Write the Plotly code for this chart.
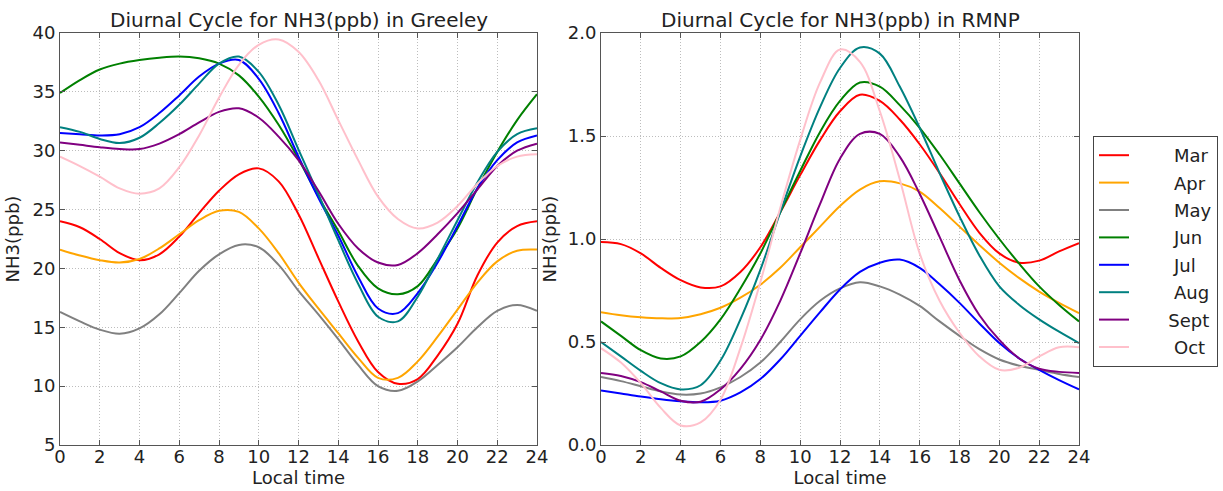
import plotly.graph_objects as go

hours = list(range(25))
months = ["Mar", "Apr", "May", "Jun", "Jul", "Aug", "Sept", "Oct"]
colors = ["#ff0000", "#ffa500", "#808080", "#008000", "#0000ff", "#008080", "#800080", "#ffc0cb"]

# Greeley NH3 (ppb) hourly values
greeley_mar = [24.0, 23.5, 22.5, 21.3, 20.7, 21.2, 22.7, 24.7, 26.6, 28.0, 28.5, 27.4, 24.6, 20.9, 17.2, 13.8, 11.2, 10.2, 10.6, 12.6, 15.3, 19.4, 22.2, 23.6, 24.0]
greeley_apr = [21.6, 21.1, 20.7, 20.5, 20.8, 21.7, 22.9, 24.1, 24.9, 24.8, 23.4, 21.3, 18.8, 16.6, 14.5, 12.4, 10.7, 10.7, 12.1, 14.2, 16.5, 18.8, 20.6, 21.5, 21.6]
greeley_may = [16.3, 15.5, 14.8, 14.45, 14.9, 16.1, 17.9, 19.8, 21.2, 22.0, 21.8, 20.3, 18.1, 16.1, 14.0, 11.8, 10.0, 9.6, 10.4, 11.8, 13.3, 15.0, 16.4, 16.9, 16.4]
greeley_jun = [34.9, 36.0, 36.9, 37.4, 37.7, 37.9, 38.0, 37.85, 37.4, 36.4, 34.6, 32.2, 29.3, 26.1, 23.2, 20.2, 18.3, 17.8, 18.5, 20.8, 23.4, 26.8, 29.9, 32.6, 34.8]
greeley_jul = [31.5, 31.4, 31.3, 31.4, 32.0, 33.2, 34.7, 36.3, 37.4, 37.7, 36.1, 33.2, 29.5, 26.0, 22.8, 19.3, 16.6, 16.2, 17.9, 20.5, 23.6, 26.8, 29.2, 30.7, 31.3]
greeley_aug = [32.0, 31.6, 31.0, 30.65, 31.1, 32.35, 33.9, 35.7, 37.4, 38.0, 36.7, 33.9, 30.1, 26.3, 22.4, 18.7, 15.9, 15.5, 17.6, 20.8, 24.1, 27.3, 29.9, 31.4, 31.9]
greeley_sept = [30.7, 30.5, 30.3, 30.15, 30.14, 30.6, 31.4, 32.4, 33.3, 33.6, 32.8, 31.2, 29.2, 26.6, 23.8, 21.7, 20.5, 20.3, 21.3, 22.9, 24.7, 26.7, 28.7, 30.0, 30.6]
greeley_oct = [29.5, 28.7, 27.8, 26.8, 26.35, 26.8, 28.6, 31.3, 34.5, 37.3, 39.0, 39.45, 38.4, 36.0, 32.6, 29.2, 26.1, 24.2, 23.4, 23.9, 25.3, 27.2, 28.7, 29.5, 29.7]

# RMNP NH3 (ppb) hourly values
rmnp_mar = [0.985, 0.975, 0.93, 0.86, 0.80, 0.765, 0.77, 0.84, 0.96, 1.13, 1.31, 1.48, 1.62, 1.70, 1.67, 1.58, 1.46, 1.32, 1.17, 1.03, 0.93, 0.885, 0.895, 0.94, 0.98]
rmnp_apr = [0.645, 0.63, 0.62, 0.615, 0.617, 0.635, 0.666, 0.715, 0.778, 0.86, 0.96, 1.06, 1.16, 1.24, 1.28, 1.27, 1.23, 1.15, 1.06, 0.97, 0.885, 0.81, 0.745, 0.69, 0.64]
rmnp_may = [0.33, 0.31, 0.285, 0.26, 0.245, 0.25, 0.28, 0.33, 0.40, 0.50, 0.61, 0.70, 0.76, 0.79, 0.77, 0.73, 0.675, 0.60, 0.53, 0.465, 0.415, 0.385, 0.365, 0.345, 0.33]
rmnp_jun = [0.60, 0.53, 0.46, 0.42, 0.43, 0.50, 0.61, 0.76, 0.93, 1.13, 1.33, 1.52, 1.67, 1.76, 1.74, 1.65, 1.54, 1.41, 1.27, 1.13, 1.00, 0.88, 0.77, 0.68, 0.60]
rmnp_jul = [0.265, 0.25, 0.235, 0.222, 0.212, 0.207, 0.215, 0.255, 0.32, 0.415, 0.53, 0.645, 0.755, 0.84, 0.885, 0.90, 0.86, 0.78, 0.69, 0.59, 0.495, 0.42, 0.365, 0.315, 0.27]
rmnp_aug = [0.50, 0.43, 0.36, 0.30, 0.27, 0.29, 0.41, 0.61, 0.85, 1.13, 1.40, 1.64, 1.83, 1.93, 1.90, 1.74, 1.54, 1.32, 1.11, 0.92, 0.77, 0.68, 0.61, 0.55, 0.495]
rmnp_sept = [0.35, 0.335, 0.305, 0.26, 0.215, 0.21, 0.27, 0.37, 0.51, 0.70, 0.93, 1.17, 1.39, 1.51, 1.51, 1.40, 1.22, 1.01, 0.80, 0.63, 0.51, 0.42, 0.37, 0.355, 0.35]
rmnp_oct = [0.47, 0.40, 0.30, 0.18, 0.095, 0.11, 0.22, 0.47, 0.79, 1.15, 1.48, 1.76, 1.92, 1.86, 1.62, 1.29, 0.93, 0.70, 0.545, 0.43, 0.365, 0.375, 0.43, 0.475, 0.475]

greeley = [greeley_mar, greeley_apr, greeley_may, greeley_jun, greeley_jul, greeley_aug, greeley_sept, greeley_oct]
rmnp = [rmnp_mar, rmnp_apr, rmnp_may, rmnp_jun, rmnp_jul, rmnp_aug, rmnp_sept, rmnp_oct]

x_ticks = list(range(0, 25, 2))
greeley_ticks = [5, 10, 15, 20, 25, 30, 35, 40]
rmnp_ticks = [0.0, 0.5, 1.0, 1.5, 2.0]

FONT = "DejaVu Sans"
W, H = 1223, 491

fig = go.Figure()
for i, m in enumerate(months):
    fig.add_trace(go.Scatter(x=hours, y=greeley[i], mode="lines", name=m,
                             line=dict(color=colors[i], width=2, shape="spline", smoothing=1.0),
                             xaxis="x", yaxis="y", showlegend=False))
for i, m in enumerate(months):
    pad = 6 if len(m) > 3 else 7
    fig.add_trace(go.Scatter(x=hours, y=rmnp[i], mode="lines", name="\u00a0" * pad + m,
                             legendgroup=m,
                             line=dict(color=colors[i], width=2, shape="spline", smoothing=1.0),
                             xaxis="x2", yaxis="y2", showlegend=True))

left_px, right_px = 60, 537
left2_px, right2_px = 601, 1079
top_px, bot_px = 33, 445

axis_common = dict(showline=True, linecolor="#555555", linewidth=1, mirror="ticks",
                   ticks="inside", ticklen=5, tickcolor="#555555",
                   showgrid=True, gridcolor="#bdbdbd", griddash="1px,2px", gridwidth=1,
                   zeroline=False, tickfont=dict(family=FONT, size=18, color="#222222"),
                   automargin=False)
x_common = dict(ticklabelstandoff=-5)

fig.update_layout(
    width=W, height=H,
    margin=dict(l=0, r=0, t=0, b=0),
    paper_bgcolor="white", plot_bgcolor="white",
    font=dict(family=FONT, color="#222222"),
    xaxis=dict(domain=[left_px / W, right_px / W], range=[0, 24], tickvals=x_ticks,
               title=dict(text="Local time", font=dict(size=18), standoff=3), anchor="y",
               **axis_common, **x_common),
    yaxis=dict(domain=[1 - bot_px / H, 1 - top_px / H], range=[5, 40], tickvals=greeley_ticks,
               title=dict(text="NH3(ppb)", font=dict(size=18), standoff=8), anchor="x", **axis_common),
    xaxis2=dict(domain=[left2_px / W, right2_px / W], range=[0, 24], tickvals=x_ticks,
                title=dict(text="Local time", font=dict(size=18), standoff=3), anchor="y2",
                **axis_common, **x_common),
    yaxis2=dict(domain=[1 - bot_px / H, 1 - top_px / H], range=[0, 2.0], tickvals=rmnp_ticks,
                tickformat=".1f",
                title=dict(text="NH3(ppb)", font=dict(size=18), standoff=6), anchor="x2", **axis_common),
    legend=dict(x=1093 / W, y=1 - 136 / H, xanchor="left", yanchor="top",
                bordercolor="#444444", borderwidth=1, bgcolor="white",
                font=dict(family=FONT, size=18, color="#222222"),
                tracegroupgap=1, itemwidth=30),
    annotations=[
        dict(text="Diurnal Cycle for NH3(ppb) in Greeley", xref="x domain", yref="y domain",
             x=0.5, y=1, xanchor="center", yanchor="bottom", yshift=-1, showarrow=False,
             font=dict(family=FONT, size=20, color="#222222")),
        dict(text="Diurnal Cycle for NH3(ppb) in RMNP", xref="x2 domain", yref="y2 domain",
             x=0.5, y=1, xanchor="center", yanchor="bottom", yshift=-1, showarrow=False,
             font=dict(family=FONT, size=20, color="#222222")),
    ],
)

fig.write_html("out.html")
